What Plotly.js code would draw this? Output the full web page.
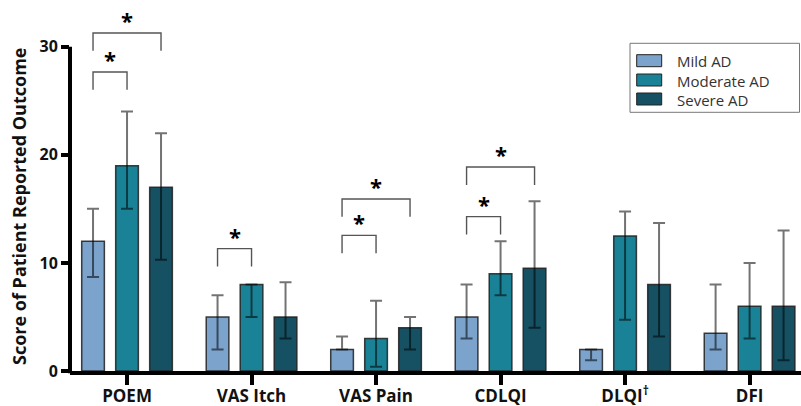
<!DOCTYPE html>
<html>
<head>
<meta charset="utf-8">
<script src="https://cdn.plot.ly/plotly-3.0.1.min.js"></script>
<style>html,body{margin:0;padding:0;background:#fff;}#chart{width:801px;height:406px;}</style>
</head>
<body>
<div id="chart"></div>
<script>
// ---- data ----
const categories = ["POEM", "VAS Itch", "VAS Pain", "CDLQI", "DLQI<sup>†</sup>", "DFI"];
const seriesNames = ["Mild AD", "Moderate AD", "Severe AD"];
const seriesColors = ["#7BA3CC", "#1A8296", "#155063"];
const yTitle = "Score of Patient Reported Outcome";

const mildValues     = [12, 5, 2, 5, 2, 3.5];
const mildUpper      = [15, 7, 3.2, 8, 2, 8];
const mildLower      = [8.7, 2, 2, 3, 1, 2];

const moderateValues = [19, 8, 3, 9, 12.5, 6];
const moderateUpper  = [24, 8, 6.5, 12, 14.75, 10];
const moderateLower  = [15, 5, 0.4, 7, 4.75, 3];

const severeValues   = [17, 5, 4, 9.5, 8, 6];
const severeUpper    = [22, 8.2, 5, 15.7, 13.7, 13];
const severeLower    = [10.3, 3, 2, 4, 3.2, 1];

// significance brackets: category index, from-series, to-series, bracket level
const bracketCategory = [0, 0, 1, 2, 2, 3, 3];
const bracketFrom     = [0, 0, 0, 0, 0, 0, 0];
const bracketTo       = [1, 2, 1, 1, 2, 1, 2];
const bracketLevel    = [27.66, 31.27, 11.32, 12.55, 15.91, 14.28, 18.87];
const bracketLabel    = ["*", "*", "*", "*", "*", "*", "*"];

const yTickVals = [0, 10, 20, 30];

// ---- layout constants ----
const W = 801, H = 406;
const M = {l: 70, r: 0, t: 10, b: 35};
const yMax = 33.4;
const bargap = 0.181, bargroupgap = 0.333;
const slot = (1 - bargap) / 3;
const legLen = 1.65, starGap = 1.4;
const FONT = "Open Sans, sans-serif";

const values = [mildValues, moderateValues, severeValues];
const uppers = [mildUpper, moderateUpper, severeUpper];
const lowers = [mildLower, moderateLower, severeLower];

const xIdx = categories.map((c, i) => i);

const traces = values.map((v, s) => ({
  type: "bar",
  name: seriesNames[s],
  x: xIdx,
  y: v,
  marker: {color: seriesColors[s], line: {color: "rgba(30,30,30,0.85)", width: 1.5}},
  error_y: {
    type: "data", symmetric: false, visible: true,
    array: uppers[s].map((u, i) => u - v[i]),
    arrayminus: lowers[s].map((l, i) => v[i] - l),
    color: "rgba(0,0,0,0.55)", thickness: 2, width: 6
  },
  showlegend: false,
  hoverinfo: "skip"
}));

const shapes = [];
const annotations = [];
const pw = W - M.l - M.r, ph = H - M.t - M.b;
const px = x => (x - M.l) / pw;
const py = y => (H - M.b - y) / ph;

// y-axis line (only up to 30)
shapes.push({type: "line", xref: "paper", yref: "paper", x0: 0, x1: 0, y0: -0.006, y1: 30 / yMax,
  line: {color: "#000", width: 4}});

// y-axis title
annotations.push({xref: "paper", yref: "paper", x: px(19), y: py(207), text: "<b>" + yTitle + "</b>",
  textangle: -90, showarrow: false, xanchor: "center", yanchor: "middle",
  font: {family: FONT, size: 18, color: "#111"}});

// brackets
bracketCategory.forEach((c, k) => {
  const xa = c + (bracketFrom[k] - 1) * slot;
  const xb = c + (bracketTo[k] - 1) * slot;
  const yl = bracketLevel[k];
  shapes.push({type: "path", xref: "x", yref: "y",
    path: `M ${xa},${yl - legLen} L ${xa},${yl} L ${xb},${yl} L ${xb},${yl - legLen}`,
    line: {color: "#555", width: 1.4}});
  annotations.push({xref: "x", yref: "y", x: (xa + xb) / 2, y: yl + starGap, text: "<b>" + bracketLabel[k] + "</b>",
    showarrow: false, xanchor: "center", yanchor: "middle", yshift: -2,
    font: {family: FONT, size: 22, color: "#000"}});
});

// custom legend
shapes.push({type: "rect", xref: "paper", yref: "paper", x0: px(630), x1: px(799.5), y0: py(112.3), y1: py(43.3),
  line: {color: "#777", width: 1}, fillcolor: "#fff"});
const rowY = [60.7, 80, 99];
seriesNames.forEach((n, s) => {
  shapes.push({type: "rect", xref: "paper", yref: "paper", x0: px(636.7), x1: px(661.7),
    y0: py(rowY[s] + 6), y1: py(rowY[s] - 6), fillcolor: seriesColors[s], line: {color: "#222", width: 1}});
});
annotations.push({xref: "paper", yref: "paper", x: px(675), y: py(rowY[1]), text: seriesNames.join("<br>"),
  showarrow: false, align: "left", xanchor: "left", yanchor: "middle",
  font: {family: FONT, size: 15, color: "#333"}});

const layout = {
  width: W, height: H,
  margin: M,
  paper_bgcolor: "#fff", plot_bgcolor: "#fff",
  barmode: "group", bargap: bargap, bargroupgap: bargroupgap,
  font: {family: FONT, color: "#000"},
  xaxis: {
    range: [-0.458, 5.413],
    tickvals: xIdx, ticktext: categories,
    showline: true, linecolor: "#000", linewidth: 4,
    ticks: "outside", ticklen: 10, tickwidth: 4, tickcolor: "#000",
    ticklabelstandoff: -3,
    showgrid: false, zeroline: false,
    tickfont: {family: FONT, size: 17, color: "#111", weight: "bold"},
    fixedrange: true
  },
  yaxis: {
    range: [0, yMax],
    tickvals: yTickVals,
    showline: false, showgrid: false, zeroline: false,
    ticks: "outside", ticklen: 8, tickwidth: 4, tickcolor: "#000",
    tickfont: {family: FONT, size: 16, color: "#111", weight: "bold"},
    fixedrange: true
  },
  shapes: shapes,
  annotations: annotations,
  showlegend: false
};

Plotly.newPlot("chart", traces, layout, {staticPlot: true});
</script>
</body>
</html>
